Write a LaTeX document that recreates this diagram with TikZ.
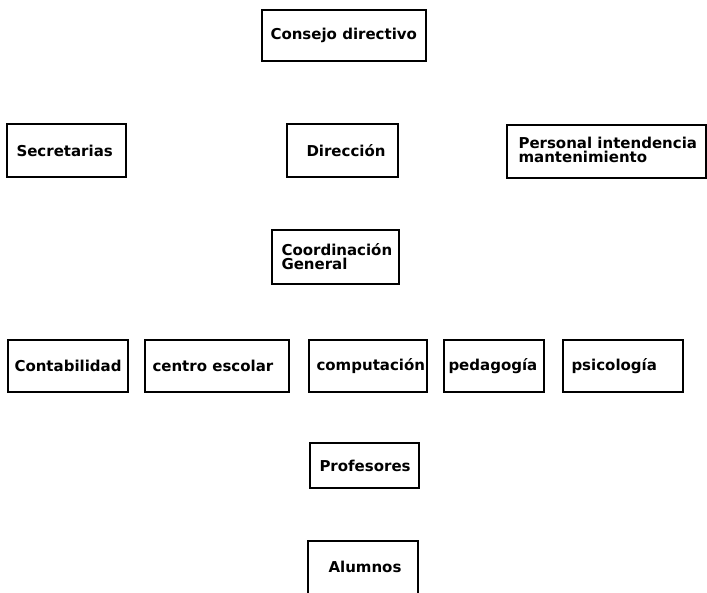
\documentclass[tikz,border=0pt]{standalone}
\usepackage{fontspec}
\setmainfont{DejaVu Sans}
\usetikzlibrary{positioning}

\begin{document}
\begin{tikzpicture}[x=1pt,y=-1pt,
  caja/.style={draw,line width=1.4pt,inner sep=0pt},
  rotulo/.style={inner sep=0pt,align=left,font=\bfseries\fontsize{15}{14}\selectfont}]
  \useasboundingbox (0,0) rectangle (707,592);

  % upper levels
  \node[caja,minimum width=164pt,minimum height=51pt] (consejo) at (344,35.5) {};
  \node[rotulo,right=9pt of consejo.west] (consejo-t) {Consejo directivo};

  \node[caja,minimum width=119pt,minimum height=53pt] (secretarias) at (66.5,150.5) {};
  \node[rotulo,right=10pt of secretarias.west] (secretarias-t) {Secretarias};
  \node[caja,minimum width=111pt,minimum height=53pt] (direccion) at (342.5,150.5) {};
  \node[rotulo,right=20pt of direccion.west] (direccion-t) {Dirección};
  \node[caja,minimum width=199pt,minimum height=53pt] (personal) at (606.5,151.5) {};
  \node[rotulo,right=12pt of personal.west,yshift=2pt] (personal-t) {Personal intendencia\\mantenimiento};

  \node[caja,minimum width=127pt,minimum height=54pt] (coordinacion) at (335.5,257) {};
  \node[rotulo,right=10pt of coordinacion.west] (coordinacion-t) {Coordinación\\General};

  % areas
  \node[caja,minimum width=120pt,minimum height=52pt] (contabilidad) at (68,366) {};
  \node[rotulo,right=7pt of contabilidad.west] (contabilidad-t) {Contabilidad};
  \node[caja,minimum width=144pt,minimum height=52pt] (centro) at (217,366) {};
  \node[rotulo,right=8pt of centro.west] (centro-t) {centro escolar};
  \node[caja,minimum width=118pt,minimum height=52pt] (computacion) at (368,366) {};
  \node[rotulo,right=8pt of computacion.west] (computacion-t) {computación};
  \node[caja,minimum width=100pt,minimum height=52pt] (pedagogia) at (494,366) {};
  \node[rotulo,right=5pt of pedagogia.west] (pedagogia-t) {pedagogía};
  \node[caja,minimum width=120pt,minimum height=52pt] (psicologia) at (623,366) {};
  \node[rotulo,right=9pt of psicologia.west] (psicologia-t) {psicología};

  % lower levels
  \node[caja,minimum width=109pt,minimum height=45pt] (profesores) at (364.5,465.5) {};
  \node[rotulo,right=10pt of profesores.west] (profesores-t) {Profesores};
  \node[caja,minimum width=110pt,minimum height=60pt] (alumnos) at (363,571) {};
  \node[rotulo,right=21pt of alumnos.west,yshift=4pt] (alumnos-t) {Alumnos};
\end{tikzpicture}
\end{document}
